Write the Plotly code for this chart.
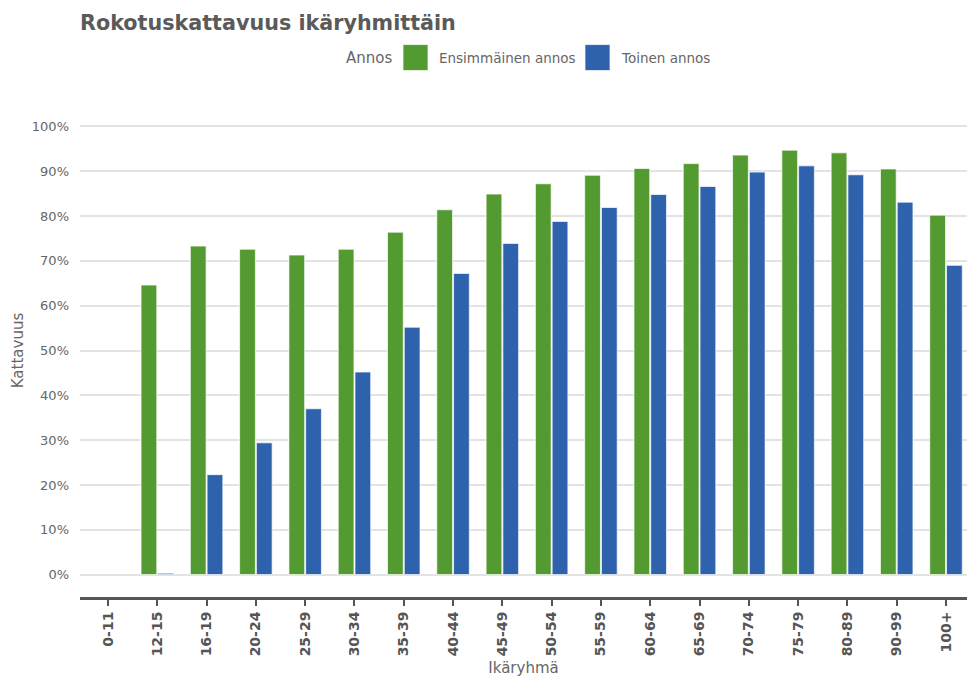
import plotly.graph_objects as go

categories = ["0-11", "12-15", "16-19", "20-24", "25-29", "30-34", "35-39", "40-44",
              "45-49", "50-54", "55-59", "60-64", "65-69", "70-74", "75-79", "80-89",
              "90-99", "100+"]
first_dose = [None, 64.6, 73.3, 72.6, 71.3, 72.6, 76.4, 81.4, 84.9, 87.2, 89.1, 90.6,
              91.7, 93.6, 94.7, 94.1, 90.5, 80.2]
second_dose = [None, 0.3, 22.3, 29.4, 37.0, 45.2, 55.2, 67.2, 73.9, 78.8, 81.9, 84.8,
               86.6, 89.8, 91.2, 89.2, 83.1, 69.0]
series_names = ["Ensimmäinen annos", "Toinen annos"]
colors = ["#539b30", "#2f62ad"]
legend_title = "Annos"

FONT = "DejaVu Sans"
GREY = "#666666"

fig = go.Figure()
for name, vals, col in zip(series_names, [first_dose, second_dose], colors):
    fig.add_trace(go.Bar(
        x=categories, y=vals, name=name, showlegend=False,
        marker=dict(color=col, line=dict(color="rgba(255,255,255,0.7)", width=1)),
    ))

# manual legend (large square swatches)
W = 887.0
H = 493.5
def px(x):
    return (x - 80) / W
def py(y):
    return (597 - y) / H

shapes = []
annotations = []
annotations.append(dict(text=legend_title, x=px(394), y=py(57), xref="paper", yref="paper",
                        xanchor="right", yanchor="middle", showarrow=False,
                        font=dict(family=FONT, size=15, color=GREY)))
for i, (name, col) in enumerate(zip(series_names, colors)):
    x0 = [403, 585][i]
    shapes.append(dict(type="rect", xref="paper", yref="paper",
                       x0=px(x0), x1=px(x0 + 25), y0=py(70), y1=py(44),
                       fillcolor=col, line=dict(color="rgba(255,255,255,0.7)", width=1)))
    annotations.append(dict(text=name, x=px(x0 + 34), y=py(57), xref="paper", yref="paper",
                            xanchor="left", yanchor="middle", showarrow=False,
                            font=dict(family=FONT, size=13.5, color=GREY)))

fig.update_layout(
    width=967, height=678,
    margin=dict(l=80, r=0, t=103.5, b=81),
    paper_bgcolor="white", plot_bgcolor="white",
    font=dict(family=FONT, color=GREY),
    title=dict(text="<b>Rokotuskattavuus ikäryhmittäin</b>", x=80/967, xanchor="left",
               y=1 - 22.5/678, yanchor="middle",
               font=dict(family=FONT, size=20.7, color="#5a5a5a")),
    barmode="group", bargap=0.32, bargroupgap=0.06,
    shapes=shapes, annotations=annotations,
    xaxis=dict(
        title=dict(text="Ikäryhmä", font=dict(family=FONT, size=15, color=GREY), standoff=8),
        range=[-0.568, 17.426],
        tickangle=-90, tickfont=dict(family=FONT, size=14, color="#555555", weight="bold"),
        showline=True, linecolor="#555555", linewidth=3,
        ticks="outside", ticklen=6, tickcolor="#555555", tickwidth=2,
        showgrid=False, zeroline=False,
    ),
    yaxis=dict(
        title=dict(text="Kattavuus", font=dict(family=FONT, size=15, color=GREY), standoff=4),
        range=[-5, 105], tickmode="linear", tick0=0, dtick=10,
        ticksuffix="%", tickfont=dict(family=FONT, size=13, color=GREY),
        showgrid=True, gridcolor="#e3e3e3", gridwidth=1.5, zeroline=False,
        showline=False, ticks="", ticklabelstandoff=10,
    ),
)

fig.write_html("out.html", config={"displayModeBar": False},
               post_script="document.body.style.margin='0';document.body.style.overflow='hidden';")
